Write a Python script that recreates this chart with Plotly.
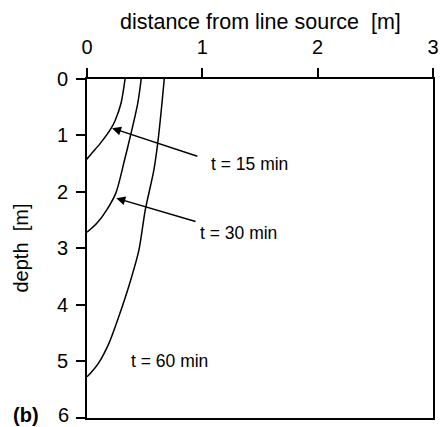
import plotly.graph_objects as go

# distance from line source [m] vs depth [m]
depth_15 = [0, 0.43, 0.73, 0.87, 1.14, 1.31, 1.39, 1.42]
dist_15 = [0.33, 0.295, 0.245, 0.21, 0.115, 0.043, 0.01, 0]

depth_30 = [0, 0.43, 1.02, 1.43, 2.02, 2.32, 2.55, 2.66, 2.71]
dist_30 = [0.47, 0.44, 0.375, 0.326, 0.25, 0.17, 0.087, 0.03, 0]

depth_60 = [0, 1.02, 1.61, 2.32, 3.03, 3.62, 4.21, 4.68, 5.03, 5.21, 5.27]
dist_60 = [0.67, 0.62, 0.58, 0.505, 0.45, 0.37, 0.275, 0.19, 0.10, 0.03, 0]

x_ticks = [0, 1, 2, 3]
y_ticks = [0, 1, 2, 3, 4, 5, 6]

labels = ["t = 15 min", "t = 30 min", "t = 60 min"]

FONT = "Liberation Sans, Arial, Helvetica, sans-serif"

fig = go.Figure()
for xs, ys in [(dist_15, depth_15), (dist_30, depth_30), (dist_60, depth_60)]:
    fig.add_trace(go.Scatter(x=xs, y=ys, mode="lines",
                             line=dict(color="black", width=1.5, shape="spline", smoothing=0.8),
                             showlegend=False, hoverinfo="skip"))

# arrows
arrows = [((0.217, 0.87), (0.97, 1.375)), ((0.254, 2.11), (0.954, 2.53))]
for (hx, hy), (tx, ty) in arrows:
    fig.add_annotation(x=hx, y=hy, ax=tx, ay=ty, xref="x", yref="y", axref="x", ayref="y",
                       text="", showarrow=True, arrowhead=2, arrowsize=1.2, arrowwidth=1.5,
                       arrowcolor="black")

label_pos = [(1.06, 1.50), (0.96, 2.73), (0.36, 5.0)]
for txt, (lx, ly) in zip(labels, label_pos):
    fig.add_annotation(x=lx, y=ly, xref="x", yref="y", text=txt, showarrow=False,
                       xanchor="left", yanchor="middle",
                       font=dict(family=FONT, size=17.5, color="black"))

fig.add_annotation(x=0.5, y=1, xref="paper", yref="paper", yshift=57,
                   text="distance from line source  [m]", showarrow=False,
                   xanchor="center", yanchor="middle",
                   font=dict(family=FONT, size=21.5, color="black"))
fig.add_annotation(x=0, y=0.5, xref="paper", yref="paper", xshift=-67,
                   text="depth  [m]", showarrow=False, textangle=-90,
                   xanchor="center", yanchor="middle",
                   font=dict(family=FONT, size=20, color="black"))
fig.add_annotation(x=0, y=0, xref="paper", yref="paper", xshift=-46, yshift=3,
                   text="<b>(b)</b>", showarrow=False,
                   xanchor="right", yanchor="middle",
                   font=dict(family=FONT, size=20, color="black"))

# last y tick label placed as annotation so it stays inside the page
y_ticktext = [str(v) for v in y_ticks[:-1]] + [""]
fig.add_annotation(x=0, y=y_ticks[-1], xref="paper", yref="y", xshift=-16, yshift=3,
                   text=str(y_ticks[-1]), showarrow=False, xanchor="right", yanchor="middle",
                   font=dict(family=FONT, size=20, color="black"))

fig.update_xaxes(range=[0, 3], side="top", tickvals=x_ticks, ticks="outside", ticklen=9,
                 tickwidth=2, tickcolor="black", showline=True, linewidth=2, linecolor="black",
                 mirror=True, showgrid=False, zeroline=False, ticklabelstandoff=6,
                 automargin=False,
                 tickfont=dict(family=FONT, size=20, color="black"))
fig.update_yaxes(range=[6.001, 0], tickvals=y_ticks, ticktext=y_ticktext, ticks="outside", ticklen=9,
                 tickwidth=2, tickcolor="black", showline=True, linewidth=2, linecolor="black",
                 mirror=True, showgrid=False, zeroline=False, ticklabelstandoff=4,
                 ticklabeloverflow="allow", automargin=False,
                 tickfont=dict(family=FONT, size=20, color="black"))

fig.update_layout(width=440, height=427, margin=dict(l=87, r=7, t=79, b=9),
                  plot_bgcolor="white", paper_bgcolor="white")

fig.write_html("out.html")
